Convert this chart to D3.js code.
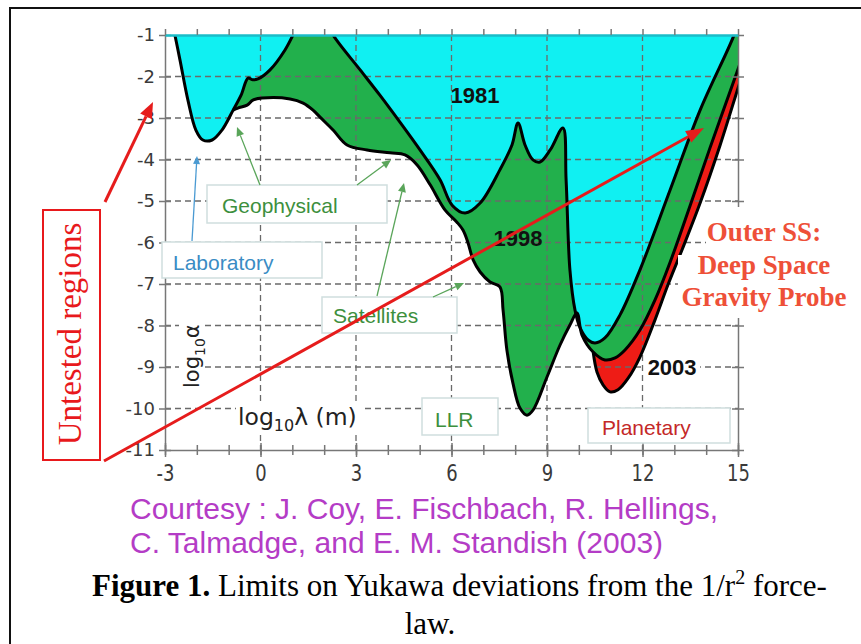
<!DOCTYPE html>
<html><head><meta charset="utf-8">
<script src="https://cdn.jsdelivr.net/npm/d3@7/dist/d3.min.js"></script>
<style>body{margin:0;background:#fff}svg{display:block}</style>
</head><body>
<svg id="c" width="861" height="644"></svg>
<script>
// ---- data (x = log10 lambda [m], y = log10 alpha) ----
const lambdaTicks = [-3, 0, 3, 6, 9, 12, 15];
const lambdaMinor = [-3,-2,-1,0,1,2,3,4,5,6,7,8,9,10,11,12,13,14,15];
const alphaTicks = [-1,-2,-3,-4,-5,-6,-7,-8,-9,-10,-11];
const gridLambda = [0, 3, 6, 9, 12];
const gridAlpha = [-2,-3,-4,-5,-6,-7,-8,-9,-10];

const limit1981 = [[-2.78,-0.7],[-2.69,-1.0],[-2.53,-1.6],[-2.28,-2.57],[-2.03,-3.29],[-1.81,-3.53],[-1.52,-3.53],[-1.21,-3.29],[-0.86,-2.81],[-0.61,-2.45],[-0.39,-2.04],[-0.24,-2.08],[-0.08,-2.06],[0.30,-1.84],[0.77,-1.36],[1.02,-1.0],[1.2,-0.7],[2.1,-0.7],[2.28,-1.0],[3.13,-1.84],[3.75,-2.45],[4.38,-3.10],[5.01,-3.77],[5.64,-4.49],[6.02,-5.10],[6.43,-5.29],[6.90,-5.05],[7.52,-4.25],[7.90,-3.65],[8.09,-3.12],[8.31,-3.65],[8.56,-4.01],[8.78,-4.06],[9.10,-3.77],[9.50,-3.24],[9.60,-4.49],[9.72,-6.66],[9.88,-7.63],[10.04,-8.06],[10.29,-8.35],[10.51,-8.42],[10.82,-8.30],[11.29,-7.75],[11.92,-6.66],[12.87,-4.73],[13.81,-2.81],[14.85,-1.05],[15.05,-0.6]];

const limit1998 = [[-0.86,-2.81],[-0.71,-2.76],[-0.42,-2.69],[-0.24,-2.57],[0.05,-2.52],[0.93,-2.54],[1.34,-2.64],[1.65,-2.81],[1.87,-2.98],[2.28,-3.29],[2.72,-3.65],[3.35,-3.77],[4.07,-3.84],[4.54,-3.89],[4.92,-4.13],[5.33,-4.61],[5.80,-5.22],[6.17,-5.51],[6.36,-5.70],[6.52,-6.01],[6.68,-6.42],[6.90,-6.71],[7.21,-6.95],[7.52,-7.07],[7.62,-7.63],[7.74,-8.59],[7.93,-9.39],[8.15,-9.99],[8.37,-10.16],[8.56,-10.04],[9.00,-9.24],[9.41,-8.47],[9.72,-7.99],[9.94,-7.70],[10.10,-8.23],[10.45,-8.64],[10.82,-8.83],[11.14,-8.78],[11.45,-8.59],[11.92,-8.11],[12.39,-7.39],[12.87,-6.47],[13.50,-5.10],[14.12,-3.72],[14.97,-1.89],[15.2,-1.4]];

const limit2003 = [[10.45,-8.64],[10.57,-9.12],[10.76,-9.43],[10.98,-9.60],[11.23,-9.55],[11.55,-9.27],[11.92,-8.76],[12.39,-7.87],[12.80,-7.02],[13.24,-6.18],[13.81,-5.05],[14.44,-3.65],[15.0,-2.28],[15.2,-1.8]];

const yearLabels = [{t:"1981", x:6.74, y:-2.64},{t:"1998", x:8.09, y:-6.08},{t:"2003", x:12.93, y:-9.19, bg:true}];

// ---- layout ----
const W = 861, H = 644;
const cyan = "#10f0f2", green = "#22b04c", red = "#ee1c16";
const svg = d3.select("#c");
const x = d3.scaleLinear().domain([-3, 15]).range([165, 738]);
const y = d3.scaleLinear().domain([-1, -11]).range([35, 450]);

svg.append("rect").attr("width", W).attr("height", H).attr("fill", "#fff");
svg.append("rect").attr("x", 10).attr("y", 8).attr("width", 900).attr("height", 700)
  .attr("fill", "none").attr("stroke", "#111").attr("stroke-width", 2);

const defs = svg.append("defs");
defs.append("clipPath").attr("id", "plot").append("rect")
  .attr("x", x(-3)).attr("y", y(-1)).attr("width", x(15) - x(-3)).attr("height", y(-11) - y(-1));

const crv = d3.curveCatmullRom.alpha(0.5);
const area = d3.area().x(d => x(d[0])).y0(y(-0.2)).y1(d => y(d[1])).curve(crv);
const line = d3.line().x(d => x(d[0])).y(d => y(d[1])).curve(crv);

const plot = svg.append("g").attr("clip-path", "url(#plot)");
plot.append("path").datum(limit2003).attr("d", area).attr("fill", red);
plot.append("path").datum(limit1998).attr("d", area).attr("fill", green);
plot.append("path").datum(limit1981).attr("d", area).attr("fill", cyan);

// grid
const grid = svg.append("g").attr("stroke", "#6a6a6a").attr("stroke-width", 1.3).attr("stroke-dasharray", "6,4");
grid.selectAll("line.v").data(gridLambda).join("line").attr("class", "v")
  .attr("x1", d => x(d)).attr("x2", d => x(d)).attr("y1", y(-1)).attr("y2", y(-11));
grid.selectAll("line.h").data(gridAlpha).join("line").attr("class", "h")
  .attr("x1", x(-3)).attr("x2", x(15)).attr("y1", d => y(d)).attr("y2", d => y(d));

// curves
const curveG = svg.append("g").attr("clip-path", "url(#plot)");
[limit1981, limit1998, limit2003].forEach(c => {
  curveG.append("path").datum(c).attr("d", line).attr("fill", "none")
    .attr("stroke", "#000").attr("stroke-width", 3).attr("stroke-linejoin", "round");
});

// axes
const axCol = "#777";
function styleAxis(g) {
  g.select(".domain").attr("stroke", axCol).attr("stroke-width", 1.5);
  g.selectAll(".tick line").attr("stroke", axCol).attr("stroke-width", 1.5);
}
const axL = svg.append("g").attr("transform", `translate(${x(-3)},0)`)
  .call(d3.axisLeft(y).tickValues(alphaTicks).tickSize(6).tickSizeOuter(0).tickPadding(4).tickFormat(d => String(d)));
styleAxis(axL);
axL.selectAll(".tick line").attr("x2", -6).attr("x1", 6);
axL.selectAll(".tick text").attr("font-family", "DejaVu Sans").attr("font-size", 18).attr("fill", "#3a3a3a");

const axR = svg.append("g").attr("transform", `translate(${x(15)},0)`)
  .call(d3.axisRight(y).tickValues(alphaTicks).tickSize(6).tickSizeOuter(0).tickFormat(""));
styleAxis(axR);
axR.selectAll(".tick line").attr("x1", -6);

const axB = svg.append("g").attr("transform", `translate(0,${y(-11)})`)
  .call(d3.axisBottom(x).tickValues(lambdaMinor).tickSize(5).tickSizeOuter(0).tickFormat(""));
styleAxis(axB);
axB.selectAll(".tick line").attr("y1", -5);
const axB2 = svg.append("g").attr("transform", `translate(0,${y(-11)})`)
  .call(d3.axisBottom(x).tickValues(lambdaTicks).tickSize(7).tickSizeOuter(0).tickFormat(d => String(d)));
styleAxis(axB2);
axB2.select(".domain").remove();
axB2.selectAll(".tick line").attr("y1", -7);
axB2.selectAll(".tick text").attr("font-family", "DejaVu Sans").attr("font-size", 18).attr("fill", "#3a3a3a")
  .attr("y", 0).attr("dy", 0).attr("transform", "translate(0,31) scale(1,1.25)");

const axT = svg.append("g").attr("transform", `translate(0,${y(-1)})`)
  .call(d3.axisTop(x).tickValues(lambdaMinor).tickSize(6).tickSizeOuter(0).tickFormat(""));
styleAxis(axT);
axT.select(".domain").attr("stroke", "#1bbcc8").attr("stroke-width", 2.5);

// year labels
yearLabels.forEach(l => {
  if (l.bg) svg.append("rect").attr("x", x(l.x) - 28).attr("y", y(l.y) - 20).attr("width", 56).attr("height", 24).attr("fill", "#fff");
  svg.append("text").attr("x", x(l.x)).attr("y", y(l.y)).attr("text-anchor", "middle")
    .attr("font-family", "Liberation Sans, Arial").attr("font-weight", "bold").attr("font-size", 22)
    .attr("fill", "#111").text(l.t);
});

// axis title labels (inside plot)
svg.append("rect").attr("x", 236).attr("y", 404).attr("width", 126).attr("height", 30).attr("fill", "#fff");
const lx = svg.append("text").attr("x", 238).attr("y", 425).attr("font-family", "DejaVu Sans").attr("font-size", 23.5).attr("fill", "#222");
lx.append("tspan").text("log");
lx.append("tspan").attr("font-size", 16).attr("dy", 6).text("10");
lx.append("tspan").attr("dy", -6).text("λ (m)");
svg.append("rect").attr("x", 179).attr("y", 322).attr("width", 24).attr("height", 68).attr("fill", "#fff");
const ly = svg.append("text").attr("transform", "translate(199,388) rotate(-90)")
  .attr("font-family", "DejaVu Sans").attr("font-size", 21).attr("fill", "#222");
ly.append("tspan").text("log");
ly.append("tspan").attr("font-size", 14).attr("dy", 6).text("10");
ly.append("tspan").attr("dy", -6).text("α");

// region label boxes
const boxes = [
  {t:"Geophysical", x0:207, y0:185, x1:387, y1:223, tx:222, ty:213, c:"#3d8f3d"},
  {t:"Laboratory", x0:162, y0:242, x1:322, y1:278, tx:173, ty:270, c:"#3a8cc4"},
  {t:"Satellites", x0:322, y0:297, x1:457, y1:333, tx:333, ty:323, c:"#3d8f3d"},
  {t:"LLR", x0:422, y0:398, x1:498, y1:435, tx:435, ty:427, c:"#3d8f3d"},
  {t:"Planetary", x0:588, y0:408, x1:730, y1:443, tx:602, ty:435, c:"#c42828"}
];
boxes.forEach(b => {
  svg.append("rect").attr("x", b.x0).attr("y", b.y0).attr("width", b.x1 - b.x0).attr("height", b.y1 - b.y0)
    .attr("fill", "#fff").attr("stroke", "#cfdede").attr("stroke-width", 1.5);
  svg.append("text").attr("x", b.tx).attr("y", b.ty).attr("font-family", "Liberation Sans, Arial")
    .attr("font-size", 21).attr("fill", b.c).text(b.t);
});

// thin pointer arrows
function arrow(x1, y1, x2, y2, col, w, hl, hw) {
  const a = Math.atan2(y2 - y1, x2 - x1);
  const bx = x2 - hl * Math.cos(a), by = y2 - hl * Math.sin(a);
  svg.append("line").attr("x1", x1).attr("y1", y1).attr("x2", bx).attr("y2", by)
    .attr("stroke", col).attr("stroke-width", w);
  const px = -Math.sin(a) * hw / 2, py = Math.cos(a) * hw / 2;
  svg.append("path").attr("d", `M${x2},${y2}L${bx + px},${by + py}L${bx - px},${by - py}Z`).attr("fill", col);
}
arrow(192, 241, 197, 156, "#4a9ad2", 1.3, 8, 7);
arrow(260, 185, 237, 127, "#5aa55a", 1.3, 9, 8);
arrow(357, 185, 391, 160, "#5aa55a", 1.3, 9, 8);
arrow(377, 296, 404, 183, "#5aa55a", 1.3, 9, 8);
arrow(433, 297, 464, 283, "#5aa55a", 1.3, 9, 8);

// Outer SS label
svg.append("rect").attr("x", 706).attr("y", 207).attr("width", 150).attr("height", 48).attr("fill", "#fff");
svg.append("rect").attr("x", 678).attr("y", 255).attr("width", 178).attr("height", 63).attr("fill", "#fff");
["Outer SS:", "Deep Space", "Gravity Probe"].forEach((s, i) => {
  svg.append("text").attr("x", 764).attr("y", 241 + i * 32.5).attr("text-anchor", "middle")
    .attr("font-family", "Liberation Serif, Times New Roman").attr("font-weight", "bold")
    .attr("font-size", 27).attr("fill", "#ee5038").text(s);
});

// Untested regions
svg.append("rect").attr("x", 43).attr("y", 210).attr("width", 57).attr("height", 250)
  .attr("fill", "#fff").attr("stroke", "#e8191c").attr("stroke-width", 2);
svg.append("text").attr("transform", "translate(81,334) rotate(-90)").attr("text-anchor", "middle")
  .attr("font-family", "Liberation Serif, Times New Roman").attr("font-size", 33)
  .attr("fill", "#e8191c").text("Untested regions");

// big red arrows
arrow(104, 461, 704, 128, "#e61c1c", 3, 18, 13);
arrow(105, 202, 153, 102, "#e61c1c", 3, 16, 13);

// courtesy
["Courtesy : J. Coy, E. Fischbach, R. Hellings,", "C. Talmadge, and E. M. Standish (2003)"].forEach((s, i) => {
  svg.append("text").attr("x", 130).attr("y", 519 + i * 34)
    .attr("font-family", "Liberation Sans, Arial").attr("font-size", 30).attr("fill", "#b43cc6").text(s);
});

// caption
const cap = svg.append("text").attr("x", 92).attr("y", 596)
  .attr("font-family", "Liberation Serif, Times New Roman").attr("font-size", 31).attr("fill", "#000");
cap.append("tspan").attr("font-weight", "bold").text("Figure 1.");
cap.append("tspan").text(" Limits on Yukawa deviations from the 1/r");
cap.append("tspan").attr("font-size", 20).attr("dy", -12).text("2");
cap.append("tspan").attr("dy", 12).text(" force-");
svg.append("text").attr("x", 430).attr("y", 634).attr("text-anchor", "middle")
  .attr("font-family", "Liberation Serif, Times New Roman").attr("font-size", 31).attr("fill", "#000").text("law.");
</script>
</body></html>
